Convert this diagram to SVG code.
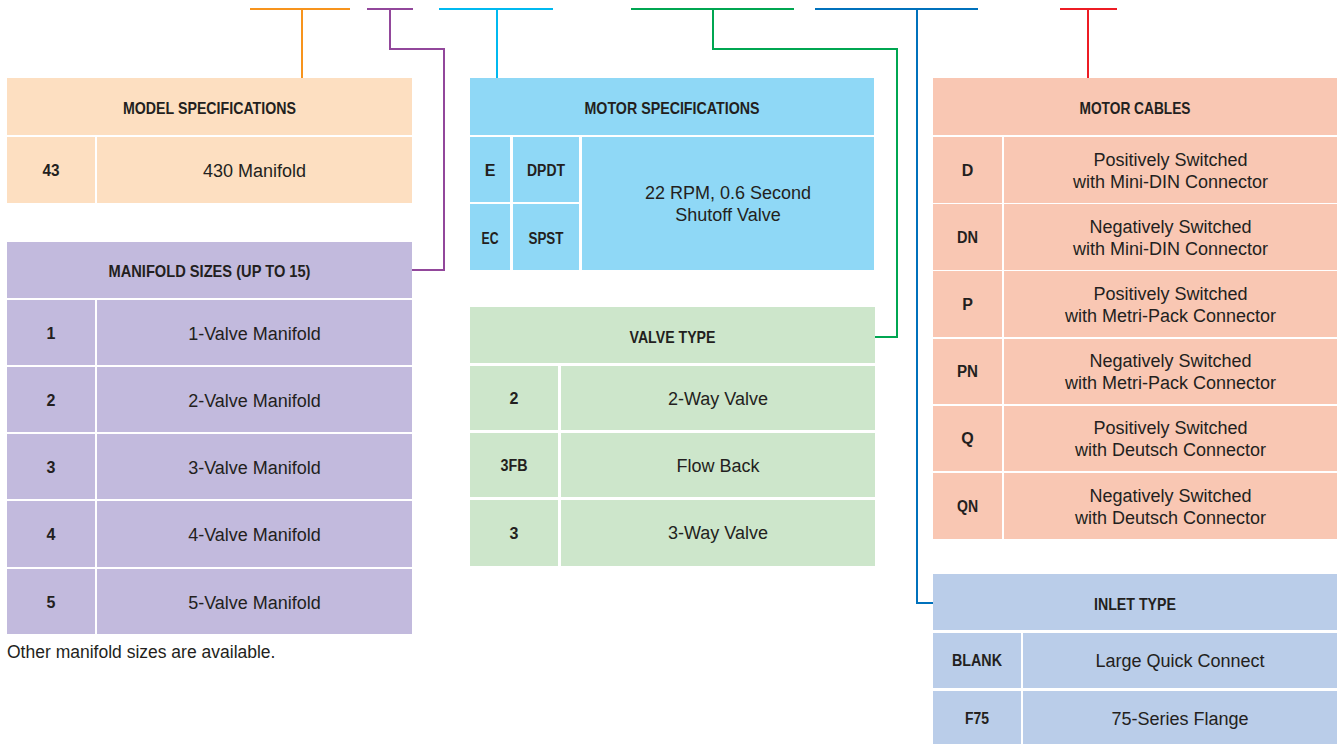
<svg xmlns="http://www.w3.org/2000/svg" width="1337" height="744" viewBox="0 0 1337 744">
<style>
text{font-family:"Liberation Sans",Arial,sans-serif;fill:#231f20;text-anchor:middle}
.h{font-size:16.5px;font-weight:bold}
.c{font-size:16px;font-weight:bold}
.d{font-size:18px}
.cap{font-size:17.5px;text-anchor:start}
.ms{fill:#fddfc1}
.mf{fill:#c2badd}
.mo{fill:#8fd8f6}
.vt{fill:#cde6cb}
.mc{fill:#f9c7b3}
.it{fill:#bacde9}
.ln{fill:none;stroke-width:2}
</style>
<rect width="1337" height="744" fill="#ffffff"/>
<g id="connectors">
<path class="ln" stroke="#f7941d" d="M250 9H350M302 9V78"/>
<path class="ln" stroke="#92479b" d="M367 9H413M390 9V49H444V270H412"/>
<path class="ln" stroke="#00b9f0" d="M439 9H553M497 9V78"/>
<path class="ln" stroke="#00a651" d="M631 9H794M713 9V49H897V337H875"/>
<path class="ln" stroke="#0071bc" d="M815 9H978M917 9V603H933"/>
<path class="ln" stroke="#ed1c24" d="M1060 9H1117M1088 9V78"/>
</g>
<g id="model-specifications">
<rect class="ms" x="7" y="78" width="405" height="57"/>
<text class="h" x="209.5" y="114" textLength="173" lengthAdjust="spacingAndGlyphs">MODEL SPECIFICATIONS</text>
<rect class="ms" x="7" y="137" width="88" height="66"/>
<rect class="ms" x="97" y="137" width="315" height="66"/>
<text class="c" x="51" y="176" textLength="17" lengthAdjust="spacingAndGlyphs">43</text>
<text class="d" x="254.5" y="177">430 Manifold</text>
</g>
<g id="manifold-sizes">
<rect class="mf" x="7" y="242" width="405" height="56"/>
<text class="h" x="209.5" y="277" textLength="202" lengthAdjust="spacingAndGlyphs">MANIFOLD SIZES (UP TO 15)</text>
<rect class="mf" x="7" y="300" width="88" height="65"/><rect class="mf" x="97" y="300" width="315" height="65"/>
<text class="c" x="51" y="339">1</text><text class="d" x="254.5" y="340">1-Valve Manifold</text>
<rect class="mf" x="7" y="367" width="88" height="65"/><rect class="mf" x="97" y="367" width="315" height="65"/>
<text class="c" x="51" y="406">2</text><text class="d" x="254.5" y="407">2-Valve Manifold</text>
<rect class="mf" x="7" y="434" width="88" height="65"/><rect class="mf" x="97" y="434" width="315" height="65"/>
<text class="c" x="51" y="473">3</text><text class="d" x="254.5" y="474">3-Valve Manifold</text>
<rect class="mf" x="7" y="501" width="88" height="66"/><rect class="mf" x="97" y="501" width="315" height="66"/>
<text class="c" x="51" y="540">4</text><text class="d" x="254.5" y="541">4-Valve Manifold</text>
<rect class="mf" x="7" y="569" width="88" height="65"/><rect class="mf" x="97" y="569" width="315" height="65"/>
<text class="c" x="51" y="608">5</text><text class="d" x="254.5" y="609">5-Valve Manifold</text>
<text class="cap" x="7" y="658">Other manifold sizes are available.</text>
</g>
<g id="motor-specifications">
<rect class="mo" x="470" y="78" width="404" height="57"/>
<text class="h" x="672" y="114" textLength="175" lengthAdjust="spacingAndGlyphs">MOTOR SPECIFICATIONS</text>
<rect class="mo" x="470" y="137" width="40" height="65"/>
<rect class="mo" x="513" y="137" width="66" height="65"/>
<rect class="mo" x="470" y="204" width="40" height="66"/>
<rect class="mo" x="513" y="204" width="66" height="66"/>
<rect class="mo" x="582" y="137" width="292" height="133"/>
<text class="c" x="490" y="176">E</text>
<text class="c" x="546" y="176" textLength="38" lengthAdjust="spacingAndGlyphs">DPDT</text>
<text class="c" x="490" y="244" textLength="17" lengthAdjust="spacingAndGlyphs">EC</text>
<text class="c" x="546" y="244" textLength="35" lengthAdjust="spacingAndGlyphs">SPST</text>
<text class="d" x="728" y="199">22 RPM, 0.6 Second</text>
<text class="d" x="728" y="221">Shutoff Valve</text>
</g>
<g id="valve-type">
<rect class="vt" x="470" y="307" width="405" height="56"/>
<text class="h" x="672.5" y="343" textLength="86" lengthAdjust="spacingAndGlyphs">VALVE TYPE</text>
<rect class="vt" x="470" y="366" width="88" height="64"/><rect class="vt" x="561" y="366" width="314" height="64"/>
<text class="c" x="514" y="404">2</text><text class="d" x="718" y="405">2-Way Valve</text>
<rect class="vt" x="470" y="433" width="88" height="64"/><rect class="vt" x="561" y="433" width="314" height="64"/>
<text class="c" x="514" y="471" textLength="27" lengthAdjust="spacingAndGlyphs">3FB</text><text class="d" x="718" y="472">Flow Back</text>
<rect class="vt" x="470" y="500" width="88" height="66"/><rect class="vt" x="561" y="500" width="314" height="66"/>
<text class="c" x="514" y="539">3</text><text class="d" x="718" y="539">3-Way Valve</text>
</g>
<g id="motor-cables">
<rect class="mc" x="933" y="78" width="404" height="57"/>
<text class="h" x="1135" y="114" textLength="111" lengthAdjust="spacingAndGlyphs">MOTOR CABLES</text>
<rect class="mc" x="933" y="137" width="69" height="66"/><rect class="mc" x="1004" y="137" width="333" height="66"/>
<text class="c" x="967.5" y="176">D</text><text class="d" x="1170.5" y="166">Positively Switched</text><text class="d" x="1170.5" y="188">with Mini-DIN Connector</text>
<rect class="mc" x="933" y="204" width="69" height="66"/><rect class="mc" x="1004" y="204" width="333" height="66"/>
<text class="c" x="967.5" y="243" textLength="21" lengthAdjust="spacingAndGlyphs">DN</text><text class="d" x="1170.5" y="233">Negatively Switched</text><text class="d" x="1170.5" y="255">with Mini-DIN Connector</text>
<rect class="mc" x="933" y="271" width="69" height="66"/><rect class="mc" x="1004" y="271" width="333" height="66"/>
<text class="c" x="967.5" y="310">P</text><text class="d" x="1170.5" y="300">Positively Switched</text><text class="d" x="1170.5" y="322">with Metri-Pack Connector</text>
<rect class="mc" x="933" y="339" width="69" height="65"/><rect class="mc" x="1004" y="339" width="333" height="65"/>
<text class="c" x="967.5" y="377" textLength="21" lengthAdjust="spacingAndGlyphs">PN</text><text class="d" x="1170.5" y="367">Negatively Switched</text><text class="d" x="1170.5" y="389">with Metri-Pack Connector</text>
<rect class="mc" x="933" y="406" width="69" height="65"/><rect class="mc" x="1004" y="406" width="333" height="65"/>
<text class="c" x="967.5" y="444">Q</text><text class="d" x="1170.5" y="434">Positively Switched</text><text class="d" x="1170.5" y="456">with Deutsch Connector</text>
<rect class="mc" x="933" y="473" width="69" height="66"/><rect class="mc" x="1004" y="473" width="333" height="66"/>
<text class="c" x="967.5" y="512" textLength="21" lengthAdjust="spacingAndGlyphs">QN</text><text class="d" x="1170.5" y="502">Negatively Switched</text><text class="d" x="1170.5" y="524">with Deutsch Connector</text>
</g>
<g id="inlet-type">
<rect class="it" x="933" y="574" width="404" height="56"/>
<text class="h" x="1135" y="610" textLength="82" lengthAdjust="spacingAndGlyphs">INLET TYPE</text>
<rect class="it" x="933" y="633" width="88" height="55"/><rect class="it" x="1023" y="633" width="314" height="55"/>
<text class="c" x="977" y="666" textLength="50" lengthAdjust="spacingAndGlyphs">BLANK</text><text class="d" x="1180" y="667">Large Quick Connect</text>
<rect class="it" x="933" y="691" width="88" height="53"/><rect class="it" x="1023" y="691" width="314" height="53"/>
<text class="c" x="977" y="724" textLength="24" lengthAdjust="spacingAndGlyphs">F75</text><text class="d" x="1180" y="725">75-Series Flange</text>
</g>
</svg>
